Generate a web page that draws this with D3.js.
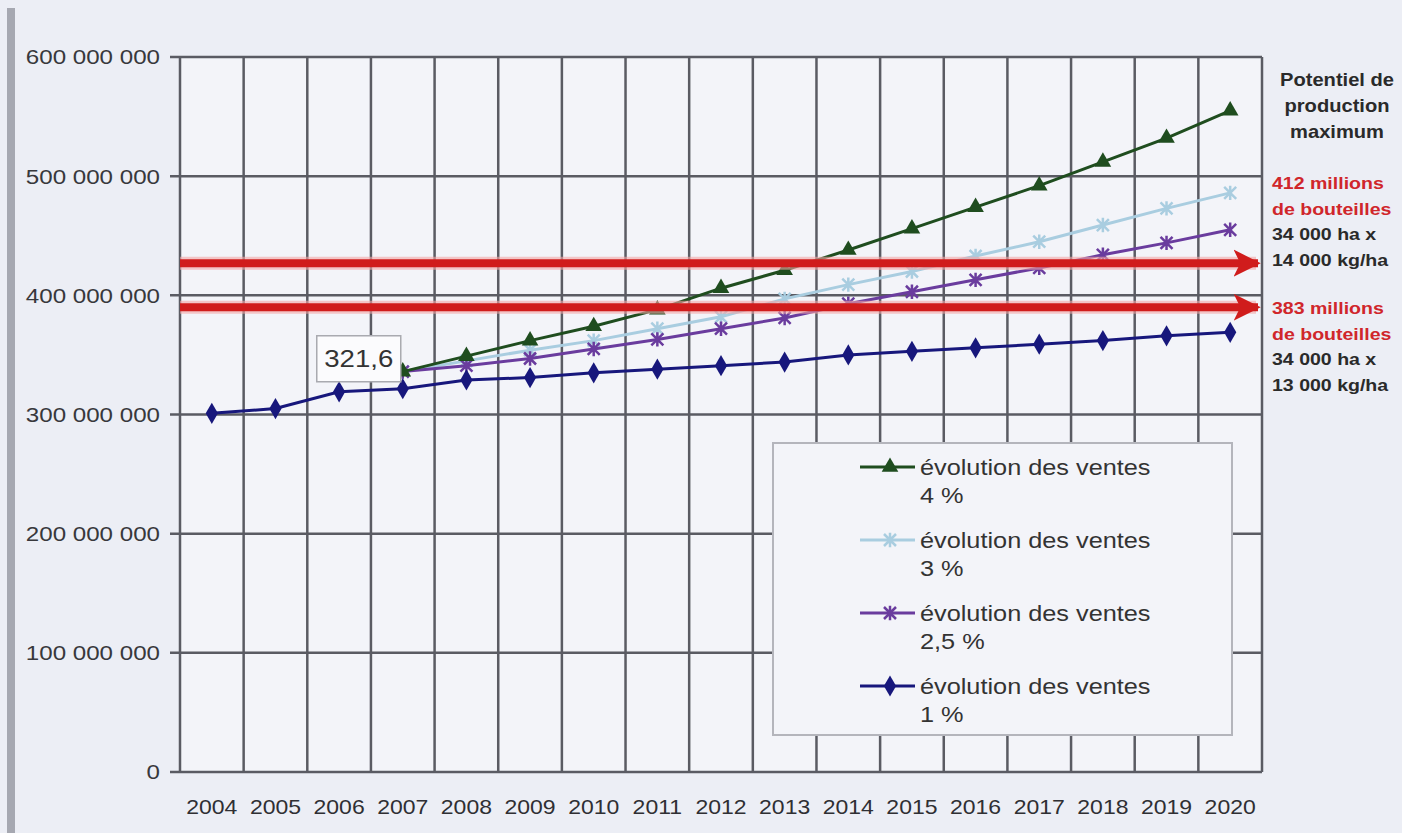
<!DOCTYPE html>
<html>
<head>
<meta charset="utf-8">
<script src="https://cdn.jsdelivr.net/npm/d3@7"></script>
<style>
  body { margin: 0; background: #eceef5; }
  svg { display: block; font-family: "Liberation Sans", Arial, sans-serif; }
</style>
</head>
<body>
<script>
'use strict';

// years on the x axis
const years = ["2004", "2005", "2006", "2007", "2008", "2009", "2010", "2011", "2012",
  "2013", "2014", "2015", "2016", "2017", "2018", "2019", "2020"];

// sales in millions of bottles
const ventes1 = [301, 305, 319, 321.6, 329, 331, 335, 338, 341, 344, 350, 353, 356, 359, 362, 366, 369];
const ventes25 = [null, null, null, 336, 341, 347, 355, 363, 372, 381, 393, 403, 413, 423, 434, 444, 455];
const ventes3 = [null, null, null, 336, 345, 354, 362, 372, 382, 397, 409, 420, 433, 445, 459, 473, 486];
const ventes4 = [null, null, null, 336, 349, 362, 374, 388, 406, 421, 438, 456, 474, 492, 512, 532, 555];

const yTicks = [0, 100000000, 200000000, 300000000, 400000000, 500000000, 600000000];

// red arrows (levels as drawn, in millions)
const arrowLevels = [427, 390];

const legendLabels = [["évolution des ventes", "4 %"], ["évolution des ventes", "3 %"],
  ["évolution des ventes", "2,5 %"], ["évolution des ventes", "1 %"]];

const sideTitle = ["Potentiel de", "production", "maximum"];
const sideNotes = [
  ["412 millions", "de bouteilles", "34 000 ha x", "14 000 kg/ha"],
  ["383 millions", "de bouteilles", "34 000 ha x", "13 000 kg/ha"]
];

const W = 1402, H = 833;
const plot = { left: 180, right: 1262, top: 57, bottom: 772 };
const stretch = 1.15; // the scan is a bit wider than tall

const svg = d3.select('body').append('svg')
  .attr('width', W)
  .attr('height', H);

// place a text with the horizontal stretch of the scan
function putText(sel, xf, yf) {
  return sel.attr('transform', (d, i) => `translate(${xf(d, i)},${yf(d, i)}) scale(${stretch},1)`);
}

// paper background and scan edge
svg.append('rect').attr('width', W).attr('height', H).attr('fill', '#eceef5');
svg.append('rect').attr('x', 7).attr('y', 8).attr('width', 8).attr('height', H - 8).attr('fill', '#a6a8b1');

svg.append('rect')
  .attr('x', plot.left).attr('y', plot.top)
  .attr('width', plot.right - plot.left).attr('height', plot.bottom - plot.top)
  .attr('fill', '#f3f4f9');

const x = d3.scaleBand().domain(years).range([plot.left, plot.right]).padding(0);
const y = d3.scaleLinear().domain([0, 600000000]).range([plot.bottom, plot.top]);
const ym = v => y(v * 1000000);
const xc = d => x(d) + x.bandwidth() / 2;

const gridColor = '#5a5b63';

// horizontal grid
svg.append('g').selectAll('line')
  .data(yTicks)
  .enter().append('line')
  .attr('x1', plot.left - 10).attr('x2', plot.right)
  .attr('y1', d => y(d)).attr('y2', d => y(d))
  .attr('stroke', gridColor).attr('stroke-width', 2.5);

// vertical grid at category boundaries
const bounds = years.map(d => x(d)).concat([plot.right]);
svg.append('g').selectAll('line')
  .data(bounds)
  .enter().append('line')
  .attr('x1', d => d).attr('x2', d => d)
  .attr('y1', plot.top).attr('y2', plot.bottom)
  .attr('stroke', gridColor).attr('stroke-width', 2.5);

// y labels
const fmt = d => d3.format(',')(d).replace(/,/g, ' ');
putText(svg.append('g').selectAll('text')
  .data(yTicks)
  .enter().append('text'), () => 160, d => y(d))
  .attr('dy', '0.35em')
  .attr('text-anchor', 'end')
  .style('font-size', '21px')
  .attr('fill', '#38383c')
  .text(fmt);

// x labels
putText(svg.append('g').selectAll('text')
  .data(years)
  .enter().append('text'), d => xc(d), () => 814)
  .attr('text-anchor', 'middle')
  .style('font-size', '20px')
  .attr('fill', '#2f2f33')
  .text(d => d);

// markers
function triangle(s) { return d3.symbol().type(d3.symbolTriangle).size(s)(); }
function diamond(s) { return d3.symbol().type(d3.symbolDiamond).size(s)(); }
function star(r) { return `M${-r},${-r}L${r},${r}M${-r},${r}L${r},${-r}M0,${-r * 1.2}L0,${r * 1.2}`; }

const series = [
  { values: ventes4, color: '#1f4d1f', marker: 'tri' },
  { values: ventes3, color: '#a9cde0', marker: 'star' },
  { values: ventes25, color: '#6a3c9e', marker: 'star' },
  { values: ventes1, color: '#17177c', marker: 'dia' }
];

function drawMarker(g, m, color) {
  if (m === 'tri') g.append('path').attr('d', triangle(120)).attr('fill', color);
  else if (m === 'dia') g.append('path').attr('d', diamond(130)).attr('fill', color);
  else g.append('path').attr('d', star(6)).attr('fill', 'none').attr('stroke', color).attr('stroke-width', 2.5);
}

const line = d3.line()
  .defined(d => d.v !== null)
  .x(d => xc(d.year))
  .y(d => ym(d.v));

// draw 3 % and 2,5 % first, then 4 %, then 1 %
[series[1], series[2], series[0], series[3]].forEach(s => {
  const pts = years.map((yr, i) => ({ year: yr, v: s.values[i] }));
  svg.append('path')
    .datum(pts)
    .attr('fill', 'none')
    .attr('stroke', s.color)
    .attr('stroke-width', 3)
    .attr('d', line);
  pts.filter(p => p.v !== null).forEach(p => {
    const g = svg.append('g').attr('transform', `translate(${xc(p.year)},${ym(p.v)})`);
    drawMarker(g, s.marker, s.color);
  });
});

// data label 321,6
const lab = svg.append('g').attr('transform', `translate(${xc('2007') - 44},${ym(321.6) - 30})`);
lab.append('rect').attr('x', -42).attr('y', -23).attr('width', 84).attr('height', 46)
  .attr('fill', '#fbfbfd').attr('stroke', '#a9aab0').attr('stroke-width', 1.5);
lab.append('text').attr('text-anchor', 'middle').attr('dy', '0.36em')
  .attr('transform', `scale(${stretch},1)`)
  .style('font-size', '24px').attr('fill', '#333').text('321,6');

// red arrows
svg.append('defs').append('marker')
  .attr('id', 'head')
  .attr('viewBox', '0 0 10 10')
  .attr('refX', 9).attr('refY', 5)
  .attr('markerWidth', 3.4).attr('markerHeight', 4.2)
  .attr('markerUnits', 'strokeWidth')
  .attr('orient', 'auto')
  .append('path').attr('d', 'M0,0L10,5L0,10L2.5,5Z').attr('fill', '#d01c1c');

arrowLevels.forEach(v => {
  svg.append('line')
    .attr('x1', plot.left).attr('x2', plot.right - 6)
    .attr('y1', ym(v)).attr('y2', ym(v))
    .attr('stroke', '#f4a6a6').attr('stroke-width', 13).attr('opacity', 0.6);
  svg.append('line')
    .attr('x1', plot.left).attr('x2', plot.right - 4)
    .attr('y1', ym(v)).attr('y2', ym(v))
    .attr('stroke', '#d01c1c').attr('stroke-width', 8)
    .attr('marker-end', 'url(#head)');
});

// legend
const leg = svg.append('g').attr('transform', 'translate(773,443)');
leg.append('rect').attr('width', 459).attr('height', 292)
  .attr('fill', '#f3f4f9').attr('stroke', '#b4b5bc').attr('stroke-width', 2);
series.forEach((s, i) => {
  const g = leg.append('g').attr('transform', `translate(0,${24 + i * 73})`);
  g.append('line').attr('x1', 87).attr('x2', 142).attr('y1', 0).attr('y2', 0)
    .attr('stroke', s.color).attr('stroke-width', 3);
  const mg = g.append('g').attr('transform', 'translate(117,0)');
  drawMarker(mg, s.marker, s.color);
  g.append('text').attr('transform', `translate(147,8) scale(${stretch},1)`)
    .style('font-size', '22px').attr('fill', '#333').text(legendLabels[i][0]);
  g.append('text').attr('transform', `translate(147,36) scale(${stretch},1)`)
    .style('font-size', '22px').attr('fill', '#333').text(legendLabels[i][1]);
});

// right side annotations
putText(svg.append('g').selectAll('text')
  .data(sideTitle)
  .enter().append('text'), () => 1337, (d, i) => 80 + i * 26)
  .attr('dy', '0.35em')
  .attr('text-anchor', 'middle')
  .style('font-size', '17.5px').style('font-weight', 'bold')
  .attr('fill', '#2a2a2a')
  .text(d => d);

sideNotes.forEach((lines, k) => {
  putText(svg.append('g').selectAll('text')
    .data(lines)
    .enter().append('text'), () => 1272, (d, i) => 183 + k * 125 + i * 25.7)
    .attr('dy', '0.35em')
    .style('font-size', '17px').style('font-weight', 'bold')
    .attr('fill', (d, i) => i < 2 ? '#d0262b' : '#2a2a2a')
    .text(d => d);
});
</script>
</body>
</html>
